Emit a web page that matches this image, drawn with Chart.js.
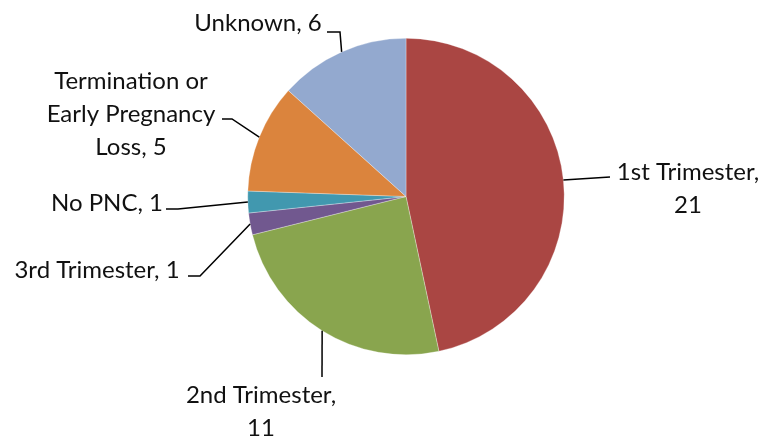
<!DOCTYPE html>
<html>
<head>
<meta charset="utf-8">
<script src="https://cdn.jsdelivr.net/npm/chart.js@4.4.0/dist/chart.umd.min.js"></script>
<style>
  html, body { margin: 0; padding: 0; background: #fff; }
  #wrap { width: 766px; height: 436px; }
</style>
</head>
<body>
<div id="wrap"><canvas id="pieChart" width="766" height="436"></canvas></div>
<script>
// values
const categories = ["1st Trimester", "2nd Trimester", "3rd Trimester", "No PNC",
  "Termination or Early Pregnancy Loss", "Unknown"];
const counts = [21, 11, 1, 1, 5, 6];
const sliceColors = ["#AA4643", "#89A54E", "#71588F", "#4198AF", "#DB843D", "#93A9CF"];

// where each data label sits and how its leader line bends (one entry per slice)
const labelLayout = [
  { lines: ["1st Trimester,", "21"], x: 688, y: 172, start: [610, 177], elbow: null },
  { lines: ["2nd Trimester,", "11"], x: 261, y: 395, start: [322, 377], elbow: null },
  { lines: ["3rd Trimester, 1"], x: 97, y: 270, start: [188, 276], elbow: [200, 276] },
  { lines: ["No PNC, 1"], x: 107, y: 203, start: [166, 209], elbow: [178, 209] },
  { lines: ["Termination or", "Early Pregnancy", "Loss, 5"], x: 131, y: 81, start: [222, 119], elbow: [232, 119] },
  { lines: ["Unknown, 6"], x: 258, y: 23, start: [327, 32], elbow: [340, 32] },
];

const lineGap = 33;
const labelFont = "24px Lato";

// draws the outside labels and leader lines, ends on each slice's mid angle
const pieLabels = {
  id: "pieLabels",
  afterDatasetsDraw(chart) {
    const ctx = chart.ctx;
    const arcs = chart.getDatasetMeta(0).data;
    ctx.save();
    ctx.strokeStyle = "#000";
    ctx.lineWidth = 1.5;
    ctx.fillStyle = "#111";
    ctx.font = labelFont;
    ctx.textAlign = "center";
    ctx.textBaseline = "middle";
    arcs.forEach((arc, i) => {
      const lay = labelLayout[i];
      const p = arc.getProps(["x", "y", "startAngle", "endAngle", "outerRadius"], true);
      const mid = (p.startAngle + p.endAngle) / 2;
      const ex = p.x + Math.cos(mid) * p.outerRadius;
      const ey = p.y + Math.sin(mid) * p.outerRadius;
      ctx.beginPath();
      ctx.moveTo(lay.start[0], lay.start[1]);
      if (lay.elbow) ctx.lineTo(lay.elbow[0], lay.elbow[1]);
      ctx.lineTo(ex, ey);
      ctx.stroke();
      lay.lines.forEach((t, k) => ctx.fillText(t, lay.x, lay.y + k * lineGap));
    });
    ctx.restore();
  },
};

const ctx = document.getElementById("pieChart").getContext("2d");
const pieChart = new Chart(ctx, {
  type: "pie",
  data: {
    labels: categories,
    datasets: [{
      data: counts,
      backgroundColor: sliceColors,
      borderColor: "rgba(255,255,255,0.6)",
      borderWidth: 0.5,
    }],
  },
  options: {
    responsive: false,
    animation: false,
    layout: { padding: { left: 247, right: 201, top: 38, bottom: 81 } },
    plugins: {
      legend: { display: false },
      tooltip: { enabled: false },
    },
  },
  plugins: [pieLabels],
});
</script>
</body>
</html>
